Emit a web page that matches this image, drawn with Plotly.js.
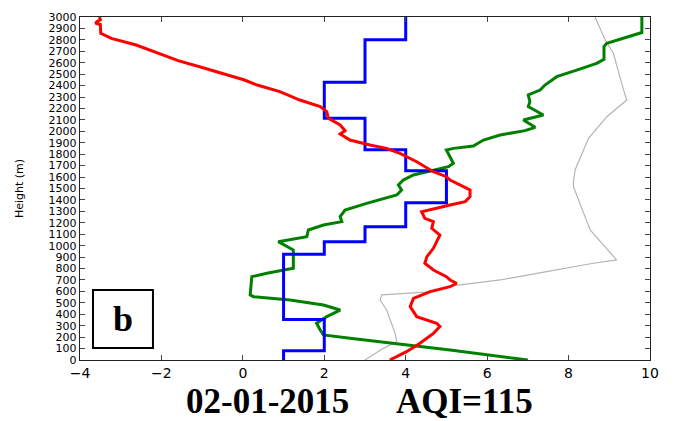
<!DOCTYPE html>
<html>
<head>
<meta charset="utf-8">
<script src="https://cdn.plot.ly/plotly-3.0.1.min.js"></script>
<style>html,body{margin:0;padding:0;background:#fff;}#chart{width:674px;height:421px;}</style>
</head>
<body>
<div id="chart"></div>
<script>
// Blue step profile
const blueHeights = [0, 80, 355, 925, 1035, 1165, 1375, 1655, 1840, 2115, 2430, 2800, 3000];
const blueValues  = [1, 2, 1, 2, 3, 4, 5, 4, 3, 2, 3, 4, 4];

// Red profile
const redHeights = [0, 73, 146, 233, 292, 321, 379, 467, 539, 598, 641, 671, 700, 729, 787, 846, 904, 977, 1035, 1093, 1152, 1210, 1239, 1297, 1356, 1385, 1428, 1487, 1531, 1574, 1603, 1647, 1734, 1807, 1851, 1880, 1924, 1977, 2006, 2055, 2114, 2172, 2216, 2274, 2347, 2405, 2449, 2507, 2560, 2618, 2683, 2755, 2813, 2857, 2935, 2945, 2960, 2975, 3000];
const redValues  = [3.61, 4.02, 4.35, 4.68, 4.84, 4.76, 4.27, 4.11, 4.19, 4.60, 5.09, 5.25, 5.09, 5.0, 4.68, 4.47, 4.52, 4.68, 4.76, 4.84, 4.64, 4.68, 4.47, 4.39, 5.09, 5.46, 5.58, 5.58, 5.33, 5.09, 5.0, 4.68, 4.27, 3.86, 3.53, 3.12, 2.63, 2.39, 2.51, 2.39, 2.10, 2.06, 1.90, 1.40, 0.91, 0.35, 0.04, -0.49, -1.02, -1.59, -2.08, -2.62, -3.23, -3.49, -3.5, -3.62, -3.58, -3.5, -3.52];

// Green profile
const greenHeights = [0, 87, 190, 219, 262, 321, 379, 437, 481, 525, 554, 569, 729, 758, 802, 962, 1035, 1079, 1137, 1181, 1210, 1254, 1312, 1370, 1443, 1487, 1531, 1574, 1618, 1662, 1691, 1720, 1778, 1837, 1851, 1872, 1924, 1968, 2006, 2035, 2099, 2143, 2216, 2259, 2318, 2361, 2405, 2478, 2536, 2595, 2630, 2741, 2770, 2813, 2864, 3000];
const greenValues  = [7.0, 5.09, 2.63, 1.98, 1.90, 1.81, 2.06, 2.39, 1.98, 1.16, 0.26, 0.18, 0.22, 0.59, 1.24, 1.24, 0.87, 1.57, 1.61, 1.98, 2.43, 2.39, 2.51, 3.04, 3.78, 3.90, 3.82, 3.94, 4.19, 4.68, 5.05, 5.17, 5.09, 5.0, 5.17, 5.66, 5.91, 6.32, 6.93, 7.18, 6.89, 7.38, 7.01, 7.05, 7.01, 7.30, 7.42, 7.71, 8.20, 8.69, 8.87, 8.87, 8.94, 9.35, 9.8, 9.8];

// Gray profile
const grayHeights = [0, 102, 160, 233, 437, 525, 569, 583, 598, 650, 700, 773, 846, 875, 1137, 1516, 1560, 1662, 1939, 2128, 2274, 2362, 2683, 2799, 3000];
const grayValues  = [3.0, 3.45, 3.78, 3.74, 3.53, 3.37, 3.41, 3.94, 4.68, 5.2, 6.32, 7.46, 8.61, 9.18, 8.53, 8.12, 8.12, 8.16, 8.49, 8.94, 9.43, 9.35, 9.10, 8.90, 8.65];

const panelLabel = "b";
const dateText = "02-01-2015";
const aqiText = "AQI=115";
const yTitle = "Height (m)";

const traces = [
  {x: grayValues, y: grayHeights, mode: 'lines', line: {color: '#b4b4b4', width: 1.2}},
  {x: greenValues, y: greenHeights, mode: 'lines', line: {color: '#008000', width: 3}},
  {x: blueValues, y: blueHeights, mode: 'lines', line: {color: '#0000ff', width: 3, shape: 'vh'}},
  {x: redValues, y: redHeights, mode: 'lines', line: {color: '#ff0000', width: 3}}
];

const axisCommon = {
  showgrid: false, zeroline: false, showline: true, linecolor: '#222', linewidth: 1.2,
  mirror: 'allticks', ticks: 'inside', ticklen: 5, tickcolor: '#444', tickwidth: 1
};

const layout = {
  width: 674, height: 421,
  margin: {l: 80, r: 24, t: 17, b: 61},
  paper_bgcolor: '#fff', plot_bgcolor: '#fff',
  showlegend: false,
  font: {family: 'DejaVu Sans, sans-serif', color: '#000'},
  xaxis: Object.assign({}, axisCommon, {
    range: [-4, 10], tickmode: 'linear', tick0: -4, dtick: 2,
    tickfont: {size: 14, family: 'DejaVu Sans'}
  }),
  yaxis: Object.assign({}, axisCommon, {
    range: [0, 3000], tickmode: 'linear', tick0: 0, dtick: 100,
    tickfont: {size: 11, family: 'DejaVu Sans'},
    title: {text: yTitle, font: {size: 11, family: 'DejaVu Sans'}, standoff: 22}
  }),
  shapes: [
    {type: 'rect', xref: 'paper', yref: 'paper', x0: 0.0228, x1: 0.128, y0: 0.035, y1: 0.204,
     line: {color: '#000', width: 2}, fillcolor: 'rgba(255,255,255,0)'}
  ],
  annotations: [
    {xref: 'paper', yref: 'paper', x: 0.0763, y: 0.12, xanchor: 'center', yanchor: 'middle',
     text: '<b>' + panelLabel + '</b>', showarrow: false,
     font: {size: 36, family: 'Liberation Serif, Times New Roman, serif', color: '#000'}},
    {xref: 'paper', yref: 'paper', x: 0.329, y: -0.12, xanchor: 'center', yanchor: 'middle',
     text: '<b>' + dateText + '</b>', showarrow: false,
     font: {size: 35, family: 'Liberation Serif, Times New Roman, serif', color: '#000'}},
    {xref: 'paper', yref: 'paper', x: 0.675, y: -0.12, xanchor: 'center', yanchor: 'middle',
     text: '<b>' + aqiText + '</b>', showarrow: false,
     font: {size: 35, family: 'Liberation Serif, Times New Roman, serif', color: '#000'}}
  ]
};

Plotly.newPlot('chart', traces, layout, {displayModeBar: false, staticPlot: true});
</script>
</body>
</html>
